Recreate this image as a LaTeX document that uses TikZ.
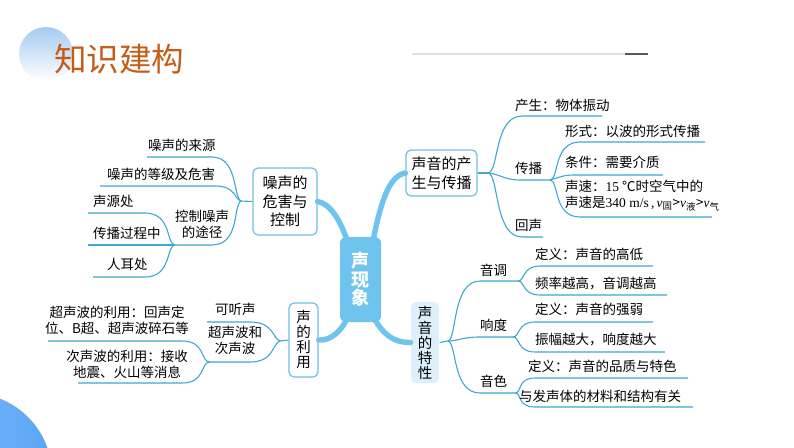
\documentclass[tikz,border=0pt]{standalone}
\usepackage{fontspec}
\setmainfont{Noto Sans CJK SC}
\newfontfamily\lserif{Liberation Serif}
\definecolor{brl}{RGB}{62,168,208}
\definecolor{trunkc}{RGB}{110,196,238}
\definecolor{titlec}{RGB}{196,92,22}
\definecolor{boxb}{RGB}{112,192,226}
\definecolor{boxf}{RGB}{221,240,250}
\definecolor{circA}{RGB}{165,203,242}
\definecolor{circL}{RGB}{142,198,250}
\definecolor{circR}{RGB}{88,164,244}
\tikzset{
  br/.style={draw=brl, line width=1.1pt},
  trunk/.style={draw=trunkc, line width=5.4pt, line cap=round},
  leaf/.style={anchor=base west, inner sep=0pt, font=\fontsize{13.5}{16}\selectfont},
  leafm/.style={inner sep=0pt, font=\fontsize{13.5}{16}\selectfont},
  topic/.style={draw=boxb, line width=1.2pt, rounded corners=5pt, fill=white, align=center,
    font=\fontsize{15}{18.5}\selectfont, inner sep=0pt},
  vtopic/.style={topic, font=\fontsize{14.5}{15}\selectfont},
}
\begin{document}
\begin{tikzpicture}[x=1pt,y=-1pt]
\useasboundingbox (0,0) rectangle (794,447);
% decorations
\begin{scope}
  \clip (0,0) rectangle (794,447);
  \shade[left color=circL, right color=circR] (-30,475) circle (82);
\end{scope}
\shade[top color=circA, bottom color=white] (46,54) circle (27);
\node[anchor=base west, inner sep=0pt, text=titlec, font=\fontsize{32.5}{33}\selectfont] (title) at (54,71) {知识建构};
\coordinate (hl1) at (412,54); \coordinate (hl2) at (625,54); \coordinate (hl3) at (648,54);
\draw[black!12, line width=1.3pt] (hl1) -- (hl2);
\draw[black!65, line width=2.2pt] (hl2) -- (hl3);

% topic boxes
\node[topic, minimum width=64pt, minimum height=67pt] (noise) at (285,201.5) {噪声的\\危害与\\控制};
\node[topic, minimum width=71pt, minimum height=46pt] (prod) at (441.5,173) {声音的产\\生与传播};
\node[vtopic, minimum width=29pt, minimum height=74pt] (use) at (303.5,340) {声\\的\\利\\用};
\node[vtopic, draw=none, fill=boxf, minimum width=28pt, minimum height=81pt] (feat) at (425,342.5) {声\\音\\的\\特\\性};

% trunks
\coordinate (c1) at (349,246); \coordinate (c2) at (372,246);
\coordinate (c3) at (349,314); \coordinate (c4) at (372,314);
\draw[trunk] (c1) .. controls (340,218) and (330,204) .. (noise.east);
\draw[trunk] (c2) .. controls (380,205) and (388,176) .. (prod.west);
\draw[trunk] (c3) .. controls (342,332) and (330,341) .. (use.east);
\draw[trunk] (c4) .. controls (382,335) and (395,343) .. (feat.west);
\node[fill=trunkc, rounded corners=6pt, minimum width=41pt, minimum height=85pt, inner sep=0pt,
  text=white, align=center, font=\fontsize{18}{18.5}\selectfont\bfseries] (root) at (360.5,279.5) {声\\现\\象};

% ---- 声音的产生与传播
\coordinate (A) at (488,173);
\coordinate (B) at (550,180);
\coordinate (a1) at (602,116); \coordinate (a2) at (705,142); \coordinate (a3) at (663,175);
\coordinate (a4) at (712,217); \coordinate (a5) at (543,237);
\draw[br] (prod.east) -- (A);
\draw[br] (A) .. controls (499,172) and (494,116) .. (522,116) -- (a1);
\draw[br] (A) .. controls (500,174) and (504,180) .. (520,180) -- (B);
\draw[br] (A) .. controls (499,174) and (494,237) .. (522,237) -- (a5);
\draw[br] (B) .. controls (559,180) and (553,142) .. (580,142) -- (a2);
\draw[br] (B) .. controls (556,179) and (560,175) .. (575,175) -- (a3);
\draw[br] (B) .. controls (559,180) and (553,217) .. (580,217) -- (a4);
\node[leaf] (t1) at (515,110) {产生：物体振动};
\node[leaf] (t2) at (515,173) {传播};
\node[leaf] (t3) at (515,230) {回声};
\node[leaf] (t4) at (565,136) {形式：以波的形式传播};
\node[leaf] (t5) at (565,167) {条件：需要介质};
\node[leafm, anchor=west, align=left] (t6) at (565,195.5)
  {声速：{\lserif 15} ℃时空气中的\\声速是{\lserif 340 m/s\,,\,\itshape v}\textsubscript{固}>{\lserif\itshape v}\textsubscript{液}>{\lserif\itshape v}\textsubscript{气}};

% ---- 声音的特性
\coordinate (C) at (448,341);
\coordinate (D1) at (518,281); \coordinate (D2) at (513,337); \coordinate (D3) at (515,393);
\coordinate (b1) at (653,266); \coordinate (b2) at (667,295);
\coordinate (b3) at (653,322); \coordinate (b4) at (665,352);
\coordinate (b5) at (688,378); \coordinate (b6) at (693,407);
\draw[br] (feat.east) -- (C);
\draw[br] (C) .. controls (457,339) and (452,281) .. (480,281) -- (D1);
\draw[br] (C) .. controls (458,341) and (462,337) .. (480,337) -- (D2);
\draw[br] (C) .. controls (457,343) and (452,393) .. (480,393) -- (D3);
\draw[br] (D1) .. controls (525,281) and (522,266) .. (540,266) -- (b1);
\draw[br] (D1) .. controls (525,281) and (522,295) .. (540,295) -- (b2);
\draw[br] (D2) .. controls (520,337) and (517,322) .. (535,322) -- (b3);
\draw[br] (D2) .. controls (520,337) and (517,352) .. (535,352) -- (b4);
\draw[br] (D3) .. controls (522,393) and (517,378) .. (535,378) -- (b5);
\draw[br] (D3) .. controls (522,393) and (517,407) .. (535,407) -- (b6);
\node[leaf] (u1) at (480,275) {音调};
\node[leaf] (u2) at (480,330) {响度};
\node[leaf] (u3) at (480,386) {音色};
\node[leaf] (u4) at (535,259) {定义：声音的高低};
\node[leaf] (u5) at (535,288) {频率越高，音调越高};
\node[leaf] (u6) at (535,314) {定义：声音的强弱};
\node[leaf] (u7) at (535,344) {振幅越大，响度越大};
\node[leaf] (u8) at (528,371) {定义：声音的品质与特色};
\node[leaf] (u9) at (519,401) {与发声体的材料和结构有关};

% ---- 噪声的危害与控制
\coordinate (E) at (241,201);
\coordinate (F) at (175,245);
\coordinate (e1) at (147,157); \coordinate (e2) at (100,186);
\coordinate (e3) at (88,213); \coordinate (e4) at (88,245); \coordinate (e5) at (93,277);
\draw[br] (noise.west) -- (E);
\draw[br] (E) .. controls (233,197) and (238,157) .. (212,157) -- (e1);
\draw[br] (E) .. controls (234,199) and (236,186) .. (215,186) -- (e2);
\draw[br] (E) .. controls (233,205) and (240,245) .. (212,245) -- (F);
\draw[br] (F) .. controls (166,245) and (172,213) .. (145,213) -- (e3);
\draw[br] (F) -- (e4);
\draw[br] (F) .. controls (166,245) and (172,277) .. (145,277) -- (e5);
\node[leaf] (n1) at (148,150) {噪声的来源};
\node[leaf] (n2) at (107,179) {噪声的等级及危害};
\node[leafm, align=center] (n3) at (202,224.5) {控制噪声\\的途径};
\node[leaf] (n4) at (93,206) {声源处};
\node[leaf] (n5) at (93,238) {传播过程中};
\node[leaf] (n6) at (107,269) {人耳处};

% ---- 声的利用
\coordinate (G) at (280,341);
\coordinate (H) at (210,362);
\coordinate (g1) at (207,322); \coordinate (g2) at (48,341); \coordinate (g3) at (78,383);
\draw[br] (use.west) -- (G);
\draw[br] (G) .. controls (272,338) and (274,322) .. (250,322) -- (g1);
\draw[br] (G) .. controls (272,344) and (274,362) .. (250,362) -- (H);
\draw[br] (H) .. controls (200,362) and (206,341) .. (182,341) -- (g2);
\draw[br] (H) .. controls (200,362) and (206,383) .. (182,383) -- (g3);
\node[leaf] (m1) at (215,314) {可听声};
\node[leafm, align=center] (m2) at (235,340) {超声波和\\次声波};
\node[leafm, align=center] (m3) at (117,320.5) {超声波的利用：回声定\\位、B超、超声波碎石等};
\node[leafm, align=center] (m4) at (127,364) {次声波的利用：接收\\地震、火山等消息};
\end{tikzpicture}
\end{document}
